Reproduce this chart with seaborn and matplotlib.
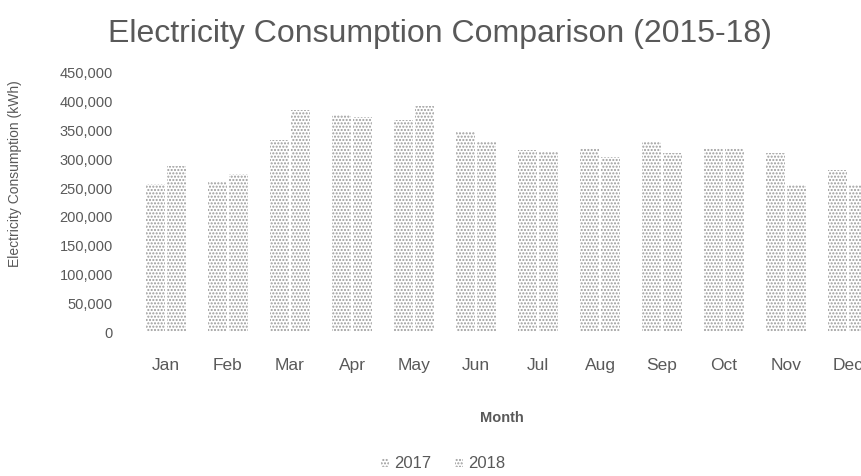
import pandas as pd
import seaborn as sns
import matplotlib.pyplot as plt
from matplotlib.ticker import FuncFormatter

# Data
months = ['Jan', 'Feb', 'Mar', 'Apr', 'May', 'Jun', 'Jul', 'Aug', 'Sep', 'Oct', 'Nov', 'Dec']
usage_2017 = [258000, 262000, 333000, 377000, 368000, 347000, 316000, 320000, 330000, 320000, 311000, 281000]
usage_2018 = [288000, 274000, 386000, 374000, 393000, 330000, 313000, 304000, 311000, 320000, 255000, 255000]

df = pd.DataFrame({
    'Month': months * 2,
    'Consumption': usage_2017 + usage_2018,
    'Year': ['2017'] * 12 + ['2018'] * 12,
})

sns.set_style('white')
plt.rcParams['font.family'] = ['Liberation Sans', 'DejaVu Sans']
plt.rcParams['hatch.linewidth'] = 1.0

grey = '#595959'
fig = plt.figure(figsize=(8.61, 4.76), dpi=100)
ax = fig.add_axes([135 / 861, 1 - 332 / 476, 744 / 861, 259 / 476])

sns.barplot(data=df, x='Month', y='Consumption', hue='Year', ax=ax,
            palette=['white', 'white'], width=0.68, gap=0.12, linewidth=0)

for bar in ax.patches:
    bar.set_hatch('.....')
    bar.set_edgecolor('#9a9a9a')
    bar.set_linewidth(0)

ax.set_ylim(0, 450000)
ax.set_yticks(range(0, 450001, 50000))
ax.yaxis.set_major_formatter(FuncFormatter(lambda v, p: f'{int(v):,}'))
ax.tick_params(axis='y', pad=16, labelsize=10.5, colors=grey, length=0)
ax.tick_params(axis='x', pad=19, labelsize=12.5, colors=grey, length=0)
sns.despine(ax=ax, left=True, bottom=True)

ax.set_xlabel('Month', fontsize=10.5, fontweight='bold', color=grey)
ax.set_ylabel('Electricity Consumption (kWh)', fontsize=10, color=grey)
ax.xaxis.set_label_coords((502 - 135) / 744, -(411 - 332) / 259)
ax.yaxis.set_label_coords(-(135 - 22) / 744, (332 - 174) / 259)

fig.text(440 / 861, 1 - 34 / 476, 'Electricity Consumption Comparison (2015-18)',
         ha='center', va='center', fontsize=23, color=grey)

handles, labels = ax.get_legend_handles_labels()
ax.legend_.remove()
fig.legend(handles, labels, loc='center', bbox_to_anchor=(443 / 861, 1 - 464 / 476),
           ncol=2, frameon=False, fontsize=12, labelcolor=grey,
           handlelength=0.5, handleheight=0.5, handletextpad=0.3, columnspacing=1.4)

fig.savefig('out.png', dpi=100)
